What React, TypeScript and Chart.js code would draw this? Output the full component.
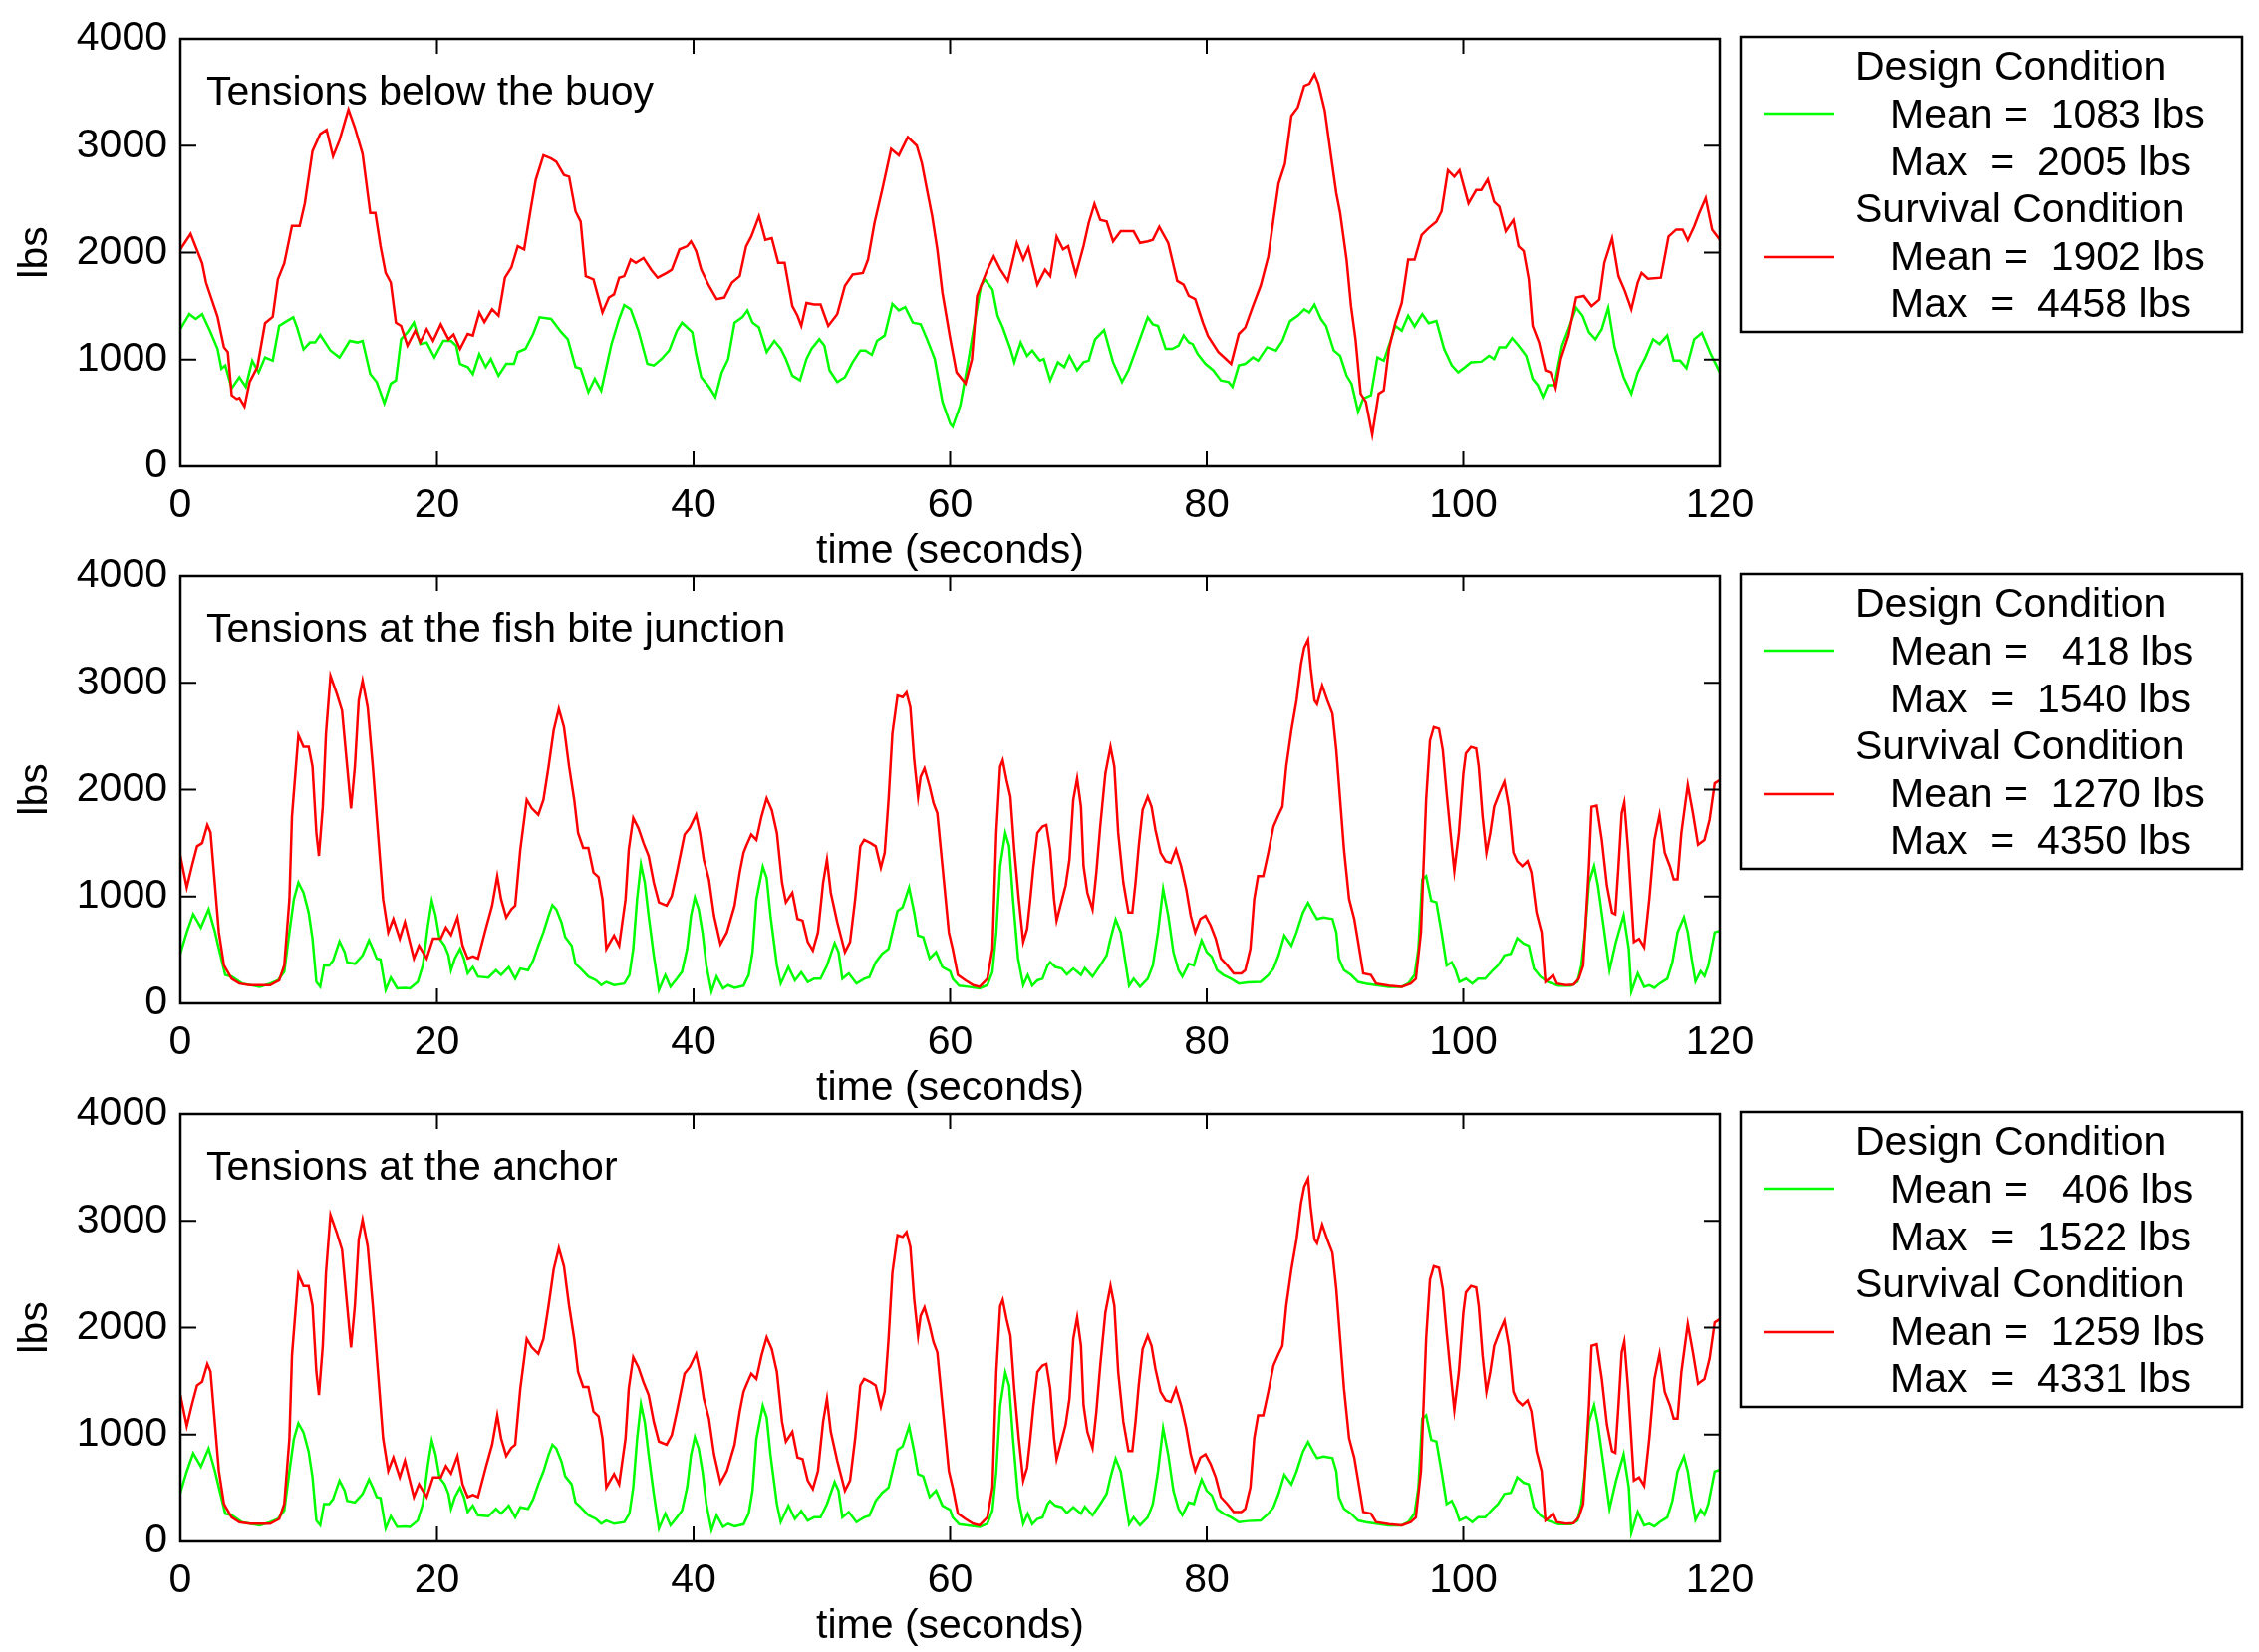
import React, { useEffect, useRef } from 'react'
import { Chart, registerables } from 'chart.js'

Chart.register(...registerables)

type Pt = [number, number]

// axis ticks
const timeTicks = [0, 20, 40, 60, 80, 100, 120]
const tensionTicks = [0, 1000, 2000, 3000, 4000]

// panel text
const panelTitles = ['Tensions below the buoy', 'Tensions at the fish bite junction', 'Tensions at the anchor']
const designMean = [1083, 418, 406]
const designMax = [2005, 1540, 1522]
const survivalMean = [1902, 1270, 1259]
const survivalMax = [4458, 4350, 4331]

// [time (s), tension (lbs)]
const buoySurvival: Pt[] = [
  [0, 2030], [0.8, 2175], [1.7, 1900], [2.0, 1720], [2.9, 1400], [3.1, 1285], [3.4, 1115], [3.7, 1070], [4.0, 665],
  [4.4, 630], [4.6, 640], [5.0, 560], [5.4, 790], [6.0, 930], [6.6, 1340], [7.2, 1400], [7.6, 1750], [8.1, 1900],
  [8.7, 2250], [9.3, 2250], [9.7, 2460], [10.3, 2950], [10.9, 3110], [11.4, 3150], [11.9, 2900], [12.4, 3050],
  [13.1, 3340], [13.6, 3170], [14.2, 2925], [14.8, 2370], [15.2, 2370], [15.6, 2060], [16.0, 1810], [16.4, 1720],
  [16.8, 1345], [17.2, 1315], [17.7, 1130], [18.3, 1270], [18.7, 1160], [19.2, 1285], [19.7, 1175], [20.3, 1330],
  [20.9, 1190], [21.3, 1235], [21.8, 1100], [22.4, 1240], [22.8, 1225], [23.3, 1440], [23.7, 1350], [24.3, 1470],
  [24.8, 1410], [25.3, 1765], [25.8, 1860], [26.3, 2060], [26.8, 2030], [27.3, 2400], [27.7, 2680], [28.3, 2910],
  [28.9, 2880], [29.3, 2850], [29.9, 2725], [30.3, 2710], [30.8, 2385], [31.2, 2290], [31.6, 1780], [32.2, 1750],
  [32.9, 1440], [33.4, 1580], [33.8, 1610], [34.2, 1765], [34.6, 1780], [35.1, 1935], [35.5, 1905], [36.1, 1950],
  [36.7, 1840], [37.2, 1765], [37.9, 1810], [38.3, 1840], [38.9, 2030], [39.5, 2060], [39.8, 2105], [40.2, 2015],
  [40.6, 1840], [41.2, 1690], [41.8, 1565], [42.4, 1580], [43.0, 1720], [43.6, 1780], [44.1, 2060], [44.5, 2150],
  [45.1, 2340], [45.6, 2120], [46.1, 2135], [46.6, 1905], [47.1, 1905], [47.7, 1500], [48.1, 1410], [48.4, 1315],
  [48.8, 1530], [49.4, 1515], [49.9, 1515], [50.5, 1315], [51.2, 1425], [51.8, 1690], [52.4, 1795], [53.2, 1810],
  [53.6, 1935], [54.1, 2275], [54.7, 2585], [55.4, 2970], [56.0, 2910], [56.7, 3080], [57.4, 3000], [57.8, 2835],
  [58.2, 2585], [58.6, 2340], [59.0, 2030], [59.4, 1625], [60.0, 1200], [60.5, 880], [61.2, 775], [61.7, 1005],
  [62.1, 1595], [62.9, 1840], [63.4, 1965], [63.9, 1845], [64.5, 1735], [65.2, 2090], [65.7, 1935], [66.1, 2045],
  [66.8, 1700], [67.4, 1840], [67.8, 1780], [68.3, 2150], [68.8, 2030], [69.2, 2060], [69.8, 1795], [70.4, 2060],
  [70.8, 2275], [71.25, 2455], [71.7, 2305], [72.2, 2290], [72.7, 2105], [73.3, 2200], [74.3, 2200], [74.8, 2090],
  [75.4, 2105], [75.8, 2120], [76.3, 2240], [77.0, 2090], [77.7, 1735], [78.2, 1700], [78.6, 1595], [79.1, 1565],
  [79.7, 1345], [80.1, 1220], [80.9, 1070], [81.5, 1005], [81.9, 960], [82.5, 1240], [83.0, 1300], [83.6, 1500],
  [84.2, 1690], [84.8, 1965], [85.2, 2310], [85.6, 2645], [86.1, 2830], [86.6, 3280], [87.1, 3360], [87.6, 3560],
  [88.0, 3580], [88.4, 3670], [88.7, 3580], [89.2, 3330], [89.7, 2895], [90.1, 2555], [90.4, 2370], [90.9, 1935],
  [91.25, 1500], [91.6, 1190], [92.0, 680], [92.4, 605], [92.9, 295], [93.4, 680], [93.8, 710], [94.2, 1100],
  [94.7, 1345], [95.2, 1530], [95.7, 1935], [96.2, 1935], [96.75, 2165], [97.3, 2230], [97.9, 2290], [98.3, 2385],
  [98.8, 2770], [99.3, 2710], [99.7, 2770], [100.4, 2460], [101.0, 2585], [101.4, 2585], [101.9, 2685], [102.4, 2475],
  [102.8, 2430], [103.3, 2200], [103.9, 2305], [104.3, 2060], [104.7, 2015], [105.1, 1750], [105.4, 1315], [105.9, 1160],
  [106.4, 900], [106.8, 880], [107.2, 735], [107.6, 1005], [108.2, 1225], [108.8, 1580], [109.4, 1595], [110.0, 1500],
  [110.6, 1560], [111.0, 1905], [111.6, 2135], [112.1, 1780], [112.6, 1640], [113.1, 1470], [113.6, 1720], [113.9, 1810],
  [114.4, 1755], [115.4, 1765], [116.0, 2150], [116.6, 2215], [117.1, 2215], [117.5, 2115], [118.0, 2245], [118.4, 2370],
  [118.9, 2510], [119.4, 2215], [120, 2120],
]

const buoyDesign: Pt[] = [
  [0, 1285], [0.7, 1425], [1.2, 1380], [1.7, 1425], [2.3, 1270], [2.9, 1100], [3.2, 915], [3.5, 945], [4.0, 730],
  [4.6, 835], [5.1, 745], [5.6, 990], [6.1, 880], [6.6, 1020], [7.2, 990], [7.7, 1315], [8.3, 1360], [8.8, 1395],
  [9.1, 1300], [9.6, 1095], [10.1, 1160], [10.5, 1160], [10.9, 1230], [11.7, 1085], [12.4, 1020], [13.2, 1175],
  [13.8, 1160], [14.2, 1175], [14.8, 865], [15.3, 790], [15.9, 590], [16.4, 775], [16.8, 805], [17.2, 1190],
  [17.7, 1255], [18.2, 1345], [18.7, 1145], [19.2, 1160], [19.8, 1020], [20.5, 1175], [21.1, 1175], [21.5, 1130],
  [21.8, 960], [22.4, 930], [22.8, 865], [23.3, 1050], [23.8, 930], [24.2, 1005], [24.8, 850], [25.4, 960],
  [26.0, 960], [26.3, 1070], [26.9, 1100], [27.5, 1240], [28.0, 1395], [28.9, 1380], [29.7, 1255], [30.2, 1190],
  [30.8, 930], [31.2, 915], [31.8, 695], [32.3, 820], [32.8, 710], [33.6, 1145], [34.2, 1380], [34.6, 1510],
  [35.1, 1470], [35.7, 1270], [36.4, 960], [36.9, 945], [37.5, 1005], [38.1, 1085], [38.7, 1270], [39.1, 1345],
  [39.9, 1255], [40.2, 1050], [40.6, 835], [41.2, 745], [41.7, 650], [42.2, 880], [42.7, 1005], [43.2, 1345],
  [43.8, 1395], [44.2, 1460], [44.6, 1345], [45.1, 1300], [45.7, 1070], [46.3, 1175], [46.8, 1100], [47.2, 1005],
  [47.7, 850], [48.3, 805], [48.8, 1005], [49.2, 1100], [49.8, 1190], [50.2, 1130], [50.6, 900], [51.2, 790],
  [51.8, 835], [52.4, 975], [53.0, 1085], [53.4, 1085], [53.9, 1045], [54.3, 1175], [54.9, 1225], [55.5, 1520],
  [56.0, 1460], [56.5, 1490], [57.1, 1345], [57.7, 1330], [58.2, 1190], [58.8, 1005], [59.4, 605], [60.0, 400],
  [60.2, 370], [60.8, 575], [61.4, 975], [62.0, 1410], [62.4, 1690], [62.7, 1750], [63.3, 1655], [63.7, 1410],
  [64.1, 1300], [64.7, 1100], [65.0, 975], [65.5, 1160], [66.0, 1035], [66.4, 1085], [67.0, 990], [67.3, 1005],
  [67.8, 805], [68.4, 975], [68.9, 930], [69.3, 1035], [69.9, 900], [70.4, 975], [70.8, 990], [71.3, 1190],
  [72.0, 1275], [72.7, 975], [73.4, 790], [73.9, 900], [74.6, 1130], [75.4, 1395], [75.8, 1330], [76.2, 1315],
  [76.8, 1100], [77.3, 1100], [77.8, 1130], [78.2, 1225], [78.6, 1160], [78.9, 1145], [79.3, 1050], [79.9, 960],
  [80.5, 900], [81.1, 805], [81.7, 790], [82.0, 745], [82.5, 945], [83.0, 960], [83.6, 1020], [84.0, 990],
  [84.7, 1115], [85.4, 1085], [85.9, 1175], [86.5, 1360], [87.1, 1410], [87.6, 1470], [88.0, 1440], [88.4, 1515],
  [88.9, 1380], [89.3, 1315], [89.9, 1085], [90.4, 1035], [90.9, 850], [91.3, 770], [91.8, 510], [92.2, 635],
  [92.8, 665], [93.3, 1020], [93.8, 990], [94.2, 1130], [94.7, 1315], [95.2, 1270], [95.7, 1410], [96.2, 1310],
  [96.8, 1425], [97.3, 1340], [97.9, 1360], [98.5, 1100], [99.1, 945], [99.6, 880], [100.1, 925], [100.6, 975],
  [101.4, 980], [102.0, 1035], [102.4, 1005], [102.8, 1115], [103.3, 1115], [103.8, 1200], [104.3, 1130], [104.9, 1035],
  [105.4, 820], [105.8, 760], [106.2, 650], [106.6, 760], [107.1, 760], [107.7, 1130], [108.2, 1285], [108.8, 1485],
  [109.3, 1410], [109.8, 1255], [110.3, 1190], [110.8, 1285], [111.3, 1485], [111.8, 1115], [112.5, 835], [113.1, 680],
  [113.6, 880], [114.2, 1020], [114.8, 1190], [115.3, 1145], [115.9, 1225], [116.4, 990], [116.9, 990], [117.4, 920],
  [118.0, 1190], [118.6, 1250], [119.3, 1050], [120, 880],
]

const fishSurvival: Pt[] = [
  [0, 1380], [0.5, 1085], [0.9, 1285], [1.3, 1470], [1.7, 1500], [2.1, 1670], [2.35, 1600], [2.7, 1100], [3.0, 665],
  [3.4, 355], [4.0, 230], [4.6, 185], [5.4, 170], [7.0, 170], [7.7, 215], [8.1, 355], [8.5, 975], [8.7, 1750],
  [9.2, 2510], [9.6, 2400], [10.0, 2400], [10.3, 2215], [10.6, 1595], [10.8, 1380], [11.1, 1840], [11.35, 2525],
  [11.7, 3065], [12.2, 2895], [12.6, 2740], [13.0, 2215], [13.3, 1825], [13.6, 2215], [13.9, 2835], [14.2, 3020],
  [14.6, 2770], [15.0, 2215], [15.4, 1595], [15.8, 975], [16.2, 665], [16.6, 790], [17.1, 605], [17.5, 760],
  [18.2, 420], [18.6, 540], [19.2, 420], [19.7, 605], [20.3, 605], [20.7, 710], [21.1, 640], [21.6, 805], [22.0, 540],
  [22.4, 420], [22.8, 440], [23.2, 420], [23.8, 695], [24.3, 915], [24.7, 1190], [25.0, 975], [25.4, 805], [25.8, 880],
  [26.1, 915], [26.5, 1440], [27.0, 1905], [27.4, 1825], [27.9, 1765], [28.3, 1905], [28.7, 2215], [29.1, 2555],
  [29.5, 2755], [29.9, 2585], [30.3, 2215], [30.7, 1905], [31.0, 1595], [31.4, 1455], [31.8, 1455], [32.2, 1225],
  [32.6, 1180], [32.9, 975], [33.2, 510], [33.8, 635], [34.2, 540], [34.7, 975], [34.95, 1440], [35.3, 1735],
  [35.7, 1640], [36.1, 1500], [36.5, 1380], [36.9, 1130], [37.3, 945], [37.9, 915], [38.3, 1005], [38.7, 1225],
  [39.3, 1580], [39.7, 1640], [40.2, 1765], [40.5, 1595], [40.8, 1345], [41.2, 1160], [41.6, 820], [42.1, 555],
  [42.6, 665], [43.2, 915], [43.6, 1225], [43.9, 1410], [44.1, 1470], [44.5, 1580], [44.9, 1530], [45.3, 1750],
  [45.7, 1920], [46.1, 1810], [46.5, 1595], [46.9, 1130], [47.2, 945], [47.7, 1035], [48.1, 790], [48.5, 775],
  [48.9, 575], [49.3, 495], [49.7, 665], [50.1, 1130], [50.4, 1345], [50.7, 1035], [51.2, 760], [51.8, 480],
  [52.2, 575], [52.6, 975], [53.0, 1470], [53.3, 1530], [53.8, 1500], [54.2, 1470], [54.6, 1270], [54.9, 1410],
  [55.2, 1905], [55.5, 2525], [55.9, 2880], [56.3, 2865], [56.6, 2910], [56.9, 2770], [57.2, 2275], [57.5, 1935],
  [57.7, 2120], [58.0, 2200], [58.4, 2030], [58.7, 1875], [59.0, 1780], [59.4, 1285], [59.9, 665], [60.2, 510],
  [60.6, 265], [61.2, 215], [61.8, 170], [62.3, 155], [62.9, 230], [63.3, 510], [63.6, 1595], [63.9, 2215],
  [64.1, 2275], [64.4, 2090], [64.7, 1935], [65.0, 1440], [65.35, 975], [65.7, 575], [66.0, 695], [66.25, 975],
  [66.5, 1285], [66.8, 1595], [67.2, 1655], [67.5, 1670], [67.8, 1440], [68.1, 975], [68.3, 775], [68.6, 915],
  [69.0, 1100], [69.3, 1345], [69.6, 1905], [69.9, 2105], [70.2, 1840], [70.4, 1285], [70.7, 1035], [71.1, 880],
  [71.4, 1225], [71.7, 1655], [72.1, 2150], [72.5, 2400], [72.8, 2215], [73.1, 1595], [73.5, 1130], [73.9, 850],
  [74.2, 850], [74.45, 1130], [74.7, 1470], [75.0, 1810], [75.4, 1935], [75.7, 1840], [76.0, 1625], [76.4, 1410],
  [76.8, 1330], [77.2, 1315], [77.6, 1440], [78.0, 1285], [78.4, 1070], [78.75, 820], [79.1, 665], [79.5, 790],
  [79.9, 820], [80.3, 730], [80.7, 605], [81.1, 420], [81.6, 355], [82.1, 280], [82.7, 280], [83.0, 310], [83.4, 510],
  [83.7, 975], [84.0, 1190], [84.4, 1190], [84.8, 1410], [85.2, 1655], [85.6, 1765], [85.9, 1840], [86.2, 2215],
  [86.6, 2555], [87.0, 2835], [87.35, 3175], [87.6, 3330], [87.9, 3405], [88.1, 3140], [88.4, 2835], [88.6, 2800],
  [89.0, 2975], [89.4, 2835], [89.8, 2710], [90.1, 2370], [90.4, 1905], [90.7, 1440], [91.1, 975], [91.5, 790],
  [91.8, 575], [92.2, 280], [92.8, 265], [93.2, 185], [94.2, 165], [95.2, 155], [95.9, 185], [96.3, 230], [96.7, 665],
  [96.9, 1285], [97.1, 1905], [97.4, 2460], [97.7, 2585], [98.1, 2570], [98.4, 2370], [98.7, 1965], [99.0, 1595],
  [99.3, 1240], [99.65, 1595], [100.0, 2150], [100.2, 2340], [100.6, 2400], [101.0, 2385], [101.2, 2215], [101.5, 1750],
  [101.8, 1410], [102.1, 1595], [102.4, 1840], [102.8, 1965], [103.2, 2075], [103.55, 1840], [103.9, 1410], [104.2, 1330],
  [104.6, 1285], [105.0, 1330], [105.3, 1225], [105.7, 850], [106.1, 665], [106.4, 200], [106.7, 230], [107.0, 265],
  [107.3, 185], [108.0, 170], [108.6, 175], [109.0, 230], [109.35, 355], [109.8, 1285], [110.0, 1840], [110.4, 1850],
  [110.8, 1530], [111.2, 1100], [111.6, 850], [111.85, 835], [112.1, 1285], [112.35, 1780], [112.55, 1880], [112.85, 1440],
  [113.3, 575], [113.7, 605], [114.1, 525], [114.5, 975], [114.9, 1530], [115.3, 1765], [115.7, 1410], [116.1, 1285],
  [116.4, 1160], [116.7, 1160], [117.0, 1595], [117.5, 2045], [117.9, 1780], [118.3, 1485], [118.8, 1530], [119.2, 1720],
  [119.6, 2060], [120, 2090],
]

const fishDesign: Pt[] = [
  [0, 465], [0.5, 665], [1.0, 835], [1.6, 710], [2.2, 880], [2.7, 665], [3.0, 510], [3.5, 265], [4.0, 250], [4.8, 185],
  [6.2, 155], [7.0, 185], [7.6, 215], [8.1, 295], [8.5, 665], [8.85, 975], [9.2, 1130], [9.6, 1035], [10.0, 850],
  [10.3, 605], [10.6, 200], [10.9, 155], [11.2, 355], [11.6, 355], [11.9, 400], [12.4, 580], [12.8, 480], [13.0, 385],
  [13.6, 370], [14.2, 450], [14.7, 590], [15.0, 510], [15.3, 420], [15.6, 410], [16.0, 125], [16.4, 240], [16.9, 140],
  [17.5, 145], [17.9, 140], [18.5, 200], [18.9, 355], [19.3, 730], [19.6, 960], [19.9, 820], [20.2, 605], [20.6, 540],
  [20.9, 450], [21.1, 310], [21.4, 420], [21.8, 510], [22.1, 420], [22.4, 280], [22.8, 340], [23.2, 250], [24.0, 240],
  [24.6, 310], [25.0, 265], [25.6, 340], [26.1, 230], [26.5, 325], [27.1, 310], [27.5, 400], [27.9, 540], [28.3, 665],
  [28.7, 820], [29.0, 920], [29.3, 880], [29.7, 760], [30.0, 620], [30.5, 540], [30.8, 370], [31.2, 325], [31.8, 250],
  [32.4, 215], [32.8, 170], [33.2, 200], [33.8, 170], [34.6, 185], [35.0, 265], [35.3, 510], [35.6, 975], [35.9, 1300],
  [36.2, 1130], [36.5, 820], [36.9, 450], [37.3, 125], [37.8, 265], [38.2, 155], [38.7, 230], [39.1, 295], [39.5, 510],
  [39.8, 820], [40.1, 990], [40.4, 880], [40.7, 665], [41.0, 355], [41.4, 110], [41.8, 250], [42.3, 140], [42.7, 170],
  [43.2, 145], [43.9, 165], [44.3, 265], [44.6, 480], [44.9, 975], [45.4, 1280], [45.7, 1175], [46.0, 820], [46.5, 355],
  [46.8, 185], [47.4, 340], [47.9, 215], [48.4, 290], [48.9, 200], [49.4, 230], [49.9, 230], [50.4, 355], [51.0, 565],
  [51.3, 480], [51.6, 230], [52.1, 280], [52.7, 185], [53.3, 230], [53.7, 245], [54.2, 385], [54.7, 465], [55.2, 510],
  [55.5, 665], [55.9, 865], [56.3, 900], [56.8, 1085], [57.2, 850], [57.5, 635], [57.9, 620], [58.4, 420], [58.9, 480],
  [59.4, 340], [60.0, 300], [60.2, 230], [60.7, 165], [61.4, 155], [62.3, 140], [62.9, 170], [63.3, 295], [63.6, 665],
  [63.9, 1285], [64.3, 1595], [64.6, 1470], [64.9, 975], [65.3, 420], [65.7, 170], [66.05, 265], [66.4, 165],
  [66.8, 215], [67.2, 230], [67.6, 355], [67.8, 385], [68.2, 340], [68.7, 325], [69.1, 270], [69.6, 325], [70.2, 265],
  [70.5, 330], [71.1, 250], [71.7, 355], [72.2, 450], [72.5, 605], [72.9, 785], [73.3, 665], [73.7, 355], [73.95, 165],
  [74.3, 230], [74.8, 155], [75.4, 230], [75.8, 355], [76.2, 665], [76.6, 1070], [77.0, 820], [77.4, 480], [77.8, 310],
  [78.1, 250], [78.6, 370], [79.0, 355], [79.3, 480], [79.6, 590], [80.0, 480], [80.4, 435], [80.8, 310], [81.3, 265],
  [81.9, 230], [82.5, 185], [83.2, 195], [84.2, 200], [84.8, 265], [85.2, 325], [85.6, 450], [86.05, 635], [86.6, 540],
  [87.0, 665], [87.5, 850], [87.9, 940], [88.3, 850], [88.6, 790], [89.1, 805], [89.8, 790], [90.1, 665], [90.3, 420],
  [90.7, 310], [91.25, 265], [91.8, 200], [92.4, 185], [93.2, 170], [94.2, 155], [95.2, 155], [95.7, 185], [96.2, 265],
  [96.5, 510], [96.8, 1160], [97.1, 1190], [97.5, 960], [97.9, 945], [98.3, 665], [98.7, 355], [99.1, 385], [99.4, 310],
  [99.7, 200], [100.2, 230], [100.7, 185], [101.15, 230], [101.7, 230], [102.3, 310], [102.7, 355], [103.2, 450],
  [103.7, 465], [104.2, 610], [104.7, 560], [105.1, 540], [105.5, 325], [106.0, 250], [106.6, 200], [107.4, 165],
  [108.4, 165], [108.9, 200], [109.2, 355], [109.5, 665], [109.8, 1130], [110.2, 1285], [110.5, 1100], [111.0, 665],
  [111.4, 310], [111.9, 575], [112.5, 825], [112.9, 510], [113.1, 110], [113.6, 280], [114.1, 155], [114.5, 170],
  [114.9, 145], [115.3, 185], [115.9, 230], [116.3, 385], [116.7, 665], [117.2, 805], [117.5, 665], [117.8, 420],
  [118.1, 205], [118.5, 300], [118.8, 255], [119.1, 355], [119.6, 665], [120, 680],
]

const anchorSurvival: Pt[] = [
  [0, 1370], [0.5, 1080], [0.9, 1280], [1.3, 1460], [1.7, 1495], [2.1, 1660], [2.35, 1590], [2.7, 1090], [3.0, 660],
  [3.4, 350], [4.0, 225], [4.6, 180], [5.4, 165], [7.0, 165], [7.7, 210], [8.1, 350], [8.5, 965], [8.7, 1740],
  [9.2, 2500], [9.6, 2390], [10.0, 2390], [10.3, 2205], [10.6, 1585], [10.8, 1370], [11.1, 1830], [11.35, 2515],
  [11.7, 3055], [12.2, 2885], [12.6, 2730], [13.0, 2205], [13.3, 1815], [13.6, 2205], [13.9, 2825], [14.2, 3010],
  [14.6, 2760], [15.0, 2205], [15.4, 1585], [15.8, 965], [16.2, 660], [16.6, 785], [17.1, 600], [17.5, 755],
  [18.2, 415], [18.6, 535], [19.2, 415], [19.7, 600], [20.3, 600], [20.7, 705], [21.1, 635], [21.6, 800], [22.0, 535],
  [22.4, 415], [22.8, 435], [23.2, 415], [23.8, 690], [24.3, 905], [24.7, 1180], [25.0, 965], [25.4, 800], [25.8, 875],
  [26.1, 905], [26.5, 1430], [27.0, 1895], [27.4, 1815], [27.9, 1755], [28.3, 1895], [28.7, 2205], [29.1, 2545],
  [29.5, 2745], [29.9, 2575], [30.3, 2205], [30.7, 1895], [31.0, 1585], [31.4, 1445], [31.8, 1445], [32.2, 1215],
  [32.6, 1170], [32.9, 965], [33.2, 505], [33.8, 630], [34.2, 535], [34.7, 965], [34.95, 1430], [35.3, 1725],
  [35.7, 1630], [36.1, 1490], [36.5, 1370], [36.9, 1120], [37.3, 935], [37.9, 905], [38.3, 995], [38.7, 1215],
  [39.3, 1570], [39.7, 1630], [40.2, 1755], [40.5, 1585], [40.8, 1335], [41.2, 1150], [41.6, 815], [42.1, 550],
  [42.6, 660], [43.2, 905], [43.6, 1215], [43.9, 1400], [44.1, 1460], [44.5, 1570], [44.9, 1520], [45.3, 1740],
  [45.7, 1910], [46.1, 1800], [46.5, 1585], [46.9, 1120], [47.2, 935], [47.7, 1025], [48.1, 785], [48.5, 770],
  [48.9, 570], [49.3, 490], [49.7, 660], [50.1, 1120], [50.4, 1335], [50.7, 1025], [51.2, 755], [51.8, 475],
  [52.2, 570], [52.6, 965], [53.0, 1460], [53.3, 1520], [53.8, 1490], [54.2, 1460], [54.6, 1260], [54.9, 1400],
  [55.2, 1895], [55.5, 2515], [55.9, 2865], [56.3, 2850], [56.6, 2895], [56.9, 2755], [57.2, 2265], [57.5, 1925],
  [57.7, 2110], [58.0, 2190], [58.4, 2020], [58.7, 1865], [59.0, 1770], [59.4, 1275], [59.9, 660], [60.2, 505],
  [60.6, 260], [61.2, 210], [61.8, 165], [62.3, 150], [62.9, 225], [63.3, 505], [63.6, 1585], [63.9, 2200],
  [64.1, 2260], [64.4, 2080], [64.7, 1925], [65.0, 1430], [65.35, 965], [65.7, 570], [66.0, 690], [66.25, 965],
  [66.5, 1275], [66.8, 1585], [67.2, 1645], [67.5, 1660], [67.8, 1430], [68.1, 965], [68.3, 770], [68.6, 905],
  [69.0, 1090], [69.3, 1335], [69.6, 1895], [69.9, 2095], [70.2, 1830], [70.4, 1275], [70.7, 1025], [71.1, 875],
  [71.4, 1215], [71.7, 1645], [72.1, 2140], [72.5, 2390], [72.8, 2205], [73.1, 1585], [73.5, 1120], [73.9, 845],
  [74.2, 845], [74.45, 1120], [74.7, 1460], [75.0, 1800], [75.4, 1925], [75.7, 1830], [76.0, 1615], [76.4, 1400],
  [76.8, 1320], [77.2, 1305], [77.6, 1430], [78.0, 1275], [78.4, 1060], [78.75, 815], [79.1, 660], [79.5, 785],
  [79.9, 815], [80.3, 725], [80.7, 600], [81.1, 415], [81.6, 350], [82.1, 275], [82.7, 275], [83.0, 305], [83.4, 505],
  [83.7, 965], [84.0, 1180], [84.4, 1180], [84.8, 1400], [85.2, 1645], [85.6, 1755], [85.9, 1830], [86.2, 2205],
  [86.6, 2545], [87.0, 2825], [87.35, 3165], [87.6, 3320], [87.9, 3395], [88.1, 3130], [88.4, 2825], [88.6, 2790],
  [89.0, 2965], [89.4, 2825], [89.8, 2700], [90.1, 2360], [90.4, 1895], [90.7, 1430], [91.1, 965], [91.5, 785],
  [91.8, 570], [92.2, 275], [92.8, 260], [93.2, 180], [94.2, 160], [95.2, 150], [95.9, 180], [96.3, 225], [96.7, 660],
  [96.9, 1275], [97.1, 1895], [97.4, 2450], [97.7, 2575], [98.1, 2560], [98.4, 2360], [98.7, 1955], [99.0, 1585],
  [99.3, 1230], [99.65, 1585], [100.0, 2140], [100.2, 2330], [100.6, 2390], [101.0, 2375], [101.2, 2205], [101.5, 1740],
  [101.8, 1400], [102.1, 1585], [102.4, 1830], [102.8, 1955], [103.2, 2065], [103.55, 1830], [103.9, 1400], [104.2, 1320],
  [104.6, 1275], [105.0, 1320], [105.3, 1215], [105.7, 845], [106.1, 660], [106.4, 195], [106.7, 225], [107.0, 260],
  [107.3, 180], [108.0, 165], [108.6, 170], [109.0, 225], [109.35, 350], [109.8, 1275], [110.0, 1830], [110.4, 1845],
  [110.8, 1520], [111.2, 1090], [111.6, 845], [111.85, 830], [112.1, 1275], [112.35, 1770], [112.55, 1870], [112.85, 1430],
  [113.3, 570], [113.7, 600], [114.1, 520], [114.5, 965], [114.9, 1520], [115.3, 1755], [115.7, 1400], [116.1, 1275],
  [116.4, 1150], [116.7, 1150], [117.0, 1585], [117.5, 2035], [117.9, 1770], [118.3, 1475], [118.8, 1520], [119.2, 1710],
  [119.6, 2050], [120, 2080],
]

const anchorDesign: Pt[] = [
  [0, 455], [0.5, 655], [1.0, 825], [1.6, 700], [2.2, 870], [2.7, 655], [3.0, 505], [3.5, 260], [4.0, 245], [4.8, 180],
  [6.2, 150], [7.0, 180], [7.6, 210], [8.1, 290], [8.5, 655], [8.85, 960], [9.2, 1105], [9.6, 1020], [10.0, 840],
  [10.3, 600], [10.6, 195], [10.9, 150], [11.2, 350], [11.6, 350], [11.9, 395], [12.4, 570], [12.8, 475], [13.0, 380],
  [13.6, 365], [14.2, 445], [14.7, 580], [15.0, 505], [15.3, 415], [15.6, 405], [16.0, 120], [16.4, 235], [16.9, 135],
  [17.5, 140], [17.9, 135], [18.5, 195], [18.9, 350], [19.3, 720], [19.6, 945], [19.9, 810], [20.2, 600], [20.6, 535],
  [20.9, 445], [21.1, 305], [21.4, 415], [21.8, 505], [22.1, 415], [22.4, 275], [22.8, 335], [23.2, 245], [24.0, 235],
  [24.6, 305], [25.0, 260], [25.6, 335], [26.1, 225], [26.5, 320], [27.1, 305], [27.5, 395], [27.9, 535], [28.3, 655],
  [28.7, 810], [29.0, 905], [29.3, 870], [29.7, 750], [30.0, 610], [30.5, 535], [30.8, 365], [31.2, 320], [31.8, 245],
  [32.4, 210], [32.8, 165], [33.2, 195], [33.8, 165], [34.6, 180], [35.0, 260], [35.3, 505], [35.6, 960], [35.9, 1285],
  [36.2, 1115], [36.5, 810], [36.9, 445], [37.3, 120], [37.8, 260], [38.2, 150], [38.7, 225], [39.1, 290], [39.5, 505],
  [39.8, 810], [40.1, 975], [40.4, 870], [40.7, 655], [41.0, 350], [41.4, 105], [41.8, 245], [42.3, 135], [42.7, 165],
  [43.2, 140], [43.9, 160], [44.3, 260], [44.6, 475], [44.9, 960], [45.4, 1270], [45.7, 1160], [46.0, 810], [46.5, 350],
  [46.8, 180], [47.4, 335], [47.9, 210], [48.4, 285], [48.9, 195], [49.4, 225], [49.9, 225], [50.4, 350], [51.0, 555],
  [51.3, 475], [51.6, 225], [52.1, 275], [52.7, 180], [53.3, 225], [53.7, 240], [54.2, 380], [54.7, 455], [55.2, 505],
  [55.5, 655], [55.9, 855], [56.3, 890], [56.8, 1075], [57.2, 840], [57.5, 630], [57.9, 610], [58.4, 415], [58.9, 475],
  [59.4, 335], [60.0, 295], [60.2, 225], [60.7, 160], [61.4, 150], [62.3, 135], [62.9, 165], [63.3, 290], [63.6, 655],
  [63.9, 1270], [64.3, 1580], [64.6, 1455], [64.9, 965], [65.3, 415], [65.7, 165], [66.05, 260], [66.4, 160],
  [66.8, 210], [67.2, 225], [67.6, 350], [67.8, 380], [68.2, 335], [68.7, 320], [69.1, 265], [69.6, 320], [70.2, 260],
  [70.5, 325], [71.1, 245], [71.7, 350], [72.2, 445], [72.5, 600], [72.9, 775], [73.3, 655], [73.7, 350], [73.95, 160],
  [74.3, 225], [74.8, 150], [75.4, 225], [75.8, 350], [76.2, 655], [76.6, 1060], [77.0, 810], [77.4, 475], [77.8, 305],
  [78.1, 245], [78.6, 365], [79.0, 350], [79.3, 475], [79.6, 580], [80.0, 475], [80.4, 430], [80.8, 305], [81.3, 260],
  [81.9, 225], [82.5, 180], [83.2, 190], [84.2, 195], [84.8, 260], [85.2, 320], [85.6, 445], [86.05, 625], [86.6, 535],
  [87.0, 655], [87.5, 840], [87.9, 930], [88.3, 840], [88.6, 780], [89.1, 795], [89.8, 780], [90.1, 655], [90.3, 415],
  [90.7, 305], [91.25, 260], [91.8, 195], [92.4, 180], [93.2, 165], [94.2, 150], [95.2, 150], [95.7, 180], [96.2, 260],
  [96.5, 505], [96.8, 1150], [97.1, 1180], [97.5, 950], [97.9, 935], [98.3, 655], [98.7, 350], [99.1, 380], [99.4, 305],
  [99.7, 195], [100.2, 225], [100.7, 180], [101.15, 225], [101.7, 225], [102.3, 305], [102.7, 350], [103.2, 445],
  [103.7, 455], [104.2, 600], [104.7, 550], [105.1, 535], [105.5, 320], [106.0, 245], [106.6, 195], [107.4, 160],
  [108.4, 160], [108.9, 195], [109.2, 350], [109.5, 655], [109.8, 1120], [110.2, 1275], [110.5, 1090], [111.0, 655],
  [111.4, 305], [111.9, 565], [112.5, 815], [112.9, 505], [113.1, 80], [113.6, 275], [114.1, 150], [114.5, 165],
  [114.9, 140], [115.3, 180], [115.9, 225], [116.3, 380], [116.7, 655], [117.2, 795], [117.5, 655], [117.8, 415],
  [118.1, 200], [118.5, 295], [118.8, 250], [119.1, 350], [119.6, 655], [120, 670],
]

const designSeries = [buoyDesign, fishDesign, anchorDesign]
const survivalSeries = [buoySurvival, fishSurvival, anchorSurvival]

const FONT = '"Liberation Sans", Arial, Helvetica, sans-serif'
const FONT_SIZE = 41
const GREEN = '#00ff00'
const RED = '#ff0000'

const W = 2267
const H = 578
const PLOT_TOP = 39
const PLOT_RIGHT = 1726
const AXIS_W = 181
const XAXIS_H = 110

const meanText = (v: number) => {
  const s = String(v)
  return `Mean =${' '.repeat(6 - s.length)}${s} lbs`
}
const maxText = (v: number) => {
  const s = String(v)
  return `Max  =${' '.repeat(6 - s.length)}${s} lbs`
}

const makeFramePlugin = (idx: number) => ({
  id: 'frame' + idx,
  afterDraw(chart: any) {
    const { ctx, chartArea: a, scales } = chart
    ctx.save()
    ctx.strokeStyle = '#000'
    ctx.lineCap = 'butt'

    // inward tick marks on all four sides
    ctx.lineWidth = 2
    ctx.beginPath()
    for (const v of timeTicks) {
      const px = scales.x.getPixelForValue(v)
      ctx.moveTo(px, a.bottom)
      ctx.lineTo(px, a.bottom - 15)
      ctx.moveTo(px, a.top)
      ctx.lineTo(px, a.top + 15)
    }
    for (const v of tensionTicks) {
      const py = scales.y.getPixelForValue(v)
      ctx.moveTo(a.left, py)
      ctx.lineTo(a.left + 16, py)
      ctx.moveTo(a.right, py)
      ctx.lineTo(a.right - 16, py)
    }
    ctx.stroke()

    ctx.lineWidth = 2.5
    ctx.strokeRect(a.left, a.top, a.right - a.left, a.bottom - a.top)

    // panel title
    ctx.fillStyle = '#000'
    ctx.font = `${FONT_SIZE}px ${FONT}`
    ctx.textAlign = 'left'
    ctx.textBaseline = 'alphabetic'
    ctx.fillText(panelTitles[idx], a.left + 26, a.top + 66)

    // legend box
    const bx = 1747
    const by = a.top - 2
    ctx.lineWidth = 2.5
    ctx.strokeRect(bx, by, 503, 296)

    ctx.fillText('Design Condition', 1862, by + 43)
    ctx.fillText(meanText(designMean[idx]), 1897, by + 91)
    ctx.fillText(maxText(designMax[idx]), 1897, by + 139)
    ctx.fillText('Survival Condition', 1862, by + 186)
    ctx.fillText(meanText(survivalMean[idx]), 1897, by + 234)
    ctx.fillText(maxText(survivalMax[idx]), 1897, by + 281)

    ctx.lineWidth = 2.5
    ctx.strokeStyle = GREEN
    ctx.beginPath()
    ctx.moveTo(1770, by + 77)
    ctx.lineTo(1840, by + 77)
    ctx.stroke()
    ctx.strokeStyle = RED
    ctx.beginPath()
    ctx.moveTo(1770, by + 221)
    ctx.lineTo(1840, by + 221)
    ctx.stroke()

    ctx.restore()
  },
})

const tickFont = { family: FONT, size: FONT_SIZE }

const Panel: React.FC<{ idx: number; top: number }> = ({ idx, top }) => {
  const ref = useRef<HTMLCanvasElement | null>(null)

  useEffect(() => {
    if (!ref.current) return
    const toXY = (pts: Pt[]) => pts.map(([x, y]) => ({ x, y }))
    const chart = new Chart(ref.current, {
      type: 'line',
      data: {
        datasets: [
          {
            label: 'Survival Condition',
            data: toXY(survivalSeries[idx]),
            borderColor: RED,
            borderWidth: 2.5,
            pointRadius: 0,
            tension: 0,
            fill: false,
          },
          {
            label: 'Design Condition',
            data: toXY(designSeries[idx]),
            borderColor: GREEN,
            borderWidth: 2.5,
            pointRadius: 0,
            tension: 0,
            fill: false,
          },
        ],
      },
      options: {
        responsive: false,
        animation: false,
        devicePixelRatio: 1,
        layout: { padding: { left: 0, top: PLOT_TOP, right: W - PLOT_RIGHT, bottom: 0 } },
        plugins: { legend: { display: false }, tooltip: { enabled: false }, title: { display: false } },
        scales: {
          x: {
            type: 'linear',
            min: 0,
            max: 120,
            afterBuildTicks: (s: any) => {
              s.ticks = timeTicks.map((v) => ({ value: v }))
            },
            afterFit: (s: any) => {
              s.height = XAXIS_H
            },
            grid: { display: false, drawTicks: false },
            border: { display: false },
            ticks: {
              color: '#000',
              font: tickFont,
              padding: 15,
              maxRotation: 0,
              autoSkip: false,
              callback: (v: any) => String(v),
            },
            title: {
              display: true,
              text: 'time (seconds)',
              color: '#000',
              font: tickFont,
              padding: { top: 0, bottom: 0 },
            },
          },
          y: {
            type: 'linear',
            min: 0,
            max: 4000,
            afterBuildTicks: (s: any) => {
              s.ticks = tensionTicks.map((v) => ({ value: v }))
            },
            afterFit: (s: any) => {
              s.width = AXIS_W
            },
            grid: { display: false, drawTicks: false },
            border: { display: false },
            ticks: {
              color: '#000',
              font: tickFont,
              padding: 13,
              autoSkip: false,
              callback: (v: any) => String(v),
            },
            title: {
              display: true,
              text: 'lbs',
              color: '#000',
              font: tickFont,
              padding: { top: 11, bottom: 0 },
            },
          },
        },
      },
      plugins: [makeFramePlugin(idx)],
    } as any)
    return () => chart.destroy()
  }, [idx])

  return (
    <canvas
      ref={ref}
      width={W}
      height={H}
      style={{ position: 'absolute', left: 0, top, width: W, height: H, display: 'block' }}
    />
  )
}

const panelTops = [0, 539, 1079]

export default function App() {
  return (
    <div style={{ position: 'absolute', left: 0, top: 0, width: W, height: 1658, background: '#fff', overflow: 'hidden' }}>
      {panelTops.map((t, i) => (
        <Panel key={i} idx={i} top={t} />
      ))}
    </div>
  )
}
